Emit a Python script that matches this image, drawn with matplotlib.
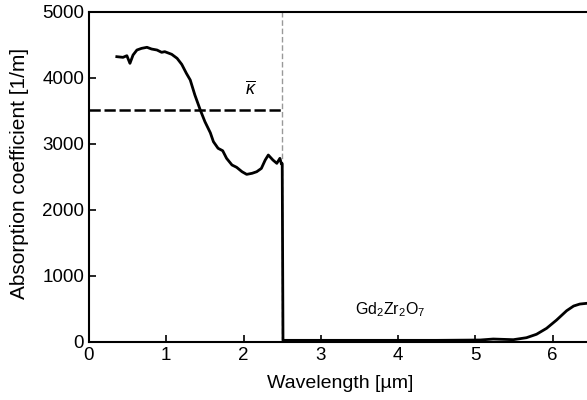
import numpy as np
import matplotlib
matplotlib.use('Agg')
import matplotlib.pyplot as plt

plt.rcParams['font.family'] = ['Liberation Sans', 'DejaVu Sans']
plt.rcParams['mathtext.fontset'] = 'custom'
plt.rcParams['mathtext.rm'] = 'Liberation Sans'
plt.rcParams['mathtext.it'] = 'Liberation Sans:italic'

# Absorption spectrum of Gd2Zr2O7
wavelength = [0.36, 0.44, 0.49, 0.53, 0.57, 0.62, 0.68, 0.75, 0.81, 0.88,
              0.94, 0.98, 1.07, 1.14, 1.20, 1.26, 1.31, 1.37, 1.44, 1.50,
              1.57, 1.61, 1.67, 1.73, 1.78, 1.85, 1.91, 1.98, 2.04, 2.11,
              2.17, 2.23, 2.28, 2.32, 2.38, 2.43, 2.47, 2.49, 2.50, 2.51,
              3.0, 3.5, 4.0, 4.5, 5.06, 5.23, 5.49, 5.66, 5.79, 5.92,
              6.05, 6.18, 6.27, 6.35, 6.44, 6.55]
absorption = [4323, 4313, 4338, 4222, 4348, 4424, 4449, 4465, 4439, 4424,
              4389, 4399, 4359, 4298, 4207, 4071, 3970, 3742, 3515, 3338,
              3170, 3035, 2935, 2898, 2783, 2682, 2647, 2580, 2540, 2556,
              2580, 2630, 2757, 2833, 2757, 2707, 2783, 2697, 2700, 25,
              25, 25, 25, 25, 30, 45, 35, 65, 117, 207,
              333, 474, 545, 575, 586, 600]

kappa_mean = 3510
cutoff = 2.5

fig = plt.figure(figsize=(5.87, 4.0), dpi=100)
ax = fig.add_axes([0.1516, 0.145, 0.9217, 0.825])

ax.axvline(cutoff, color='#999999', lw=1.0, ls=(0, (4, 2)), zorder=1)
ax.plot(wavelength, absorption, color='black', lw=2.0, zorder=3)
ax.plot([0, cutoff], [kappa_mean, kappa_mean], color='black', lw=1.8,
        dashes=(4.5, 1.5), zorder=2)

ax.text(2.1, 3690, r'$\overline{\kappa}$', fontsize=13, ha='center', va='bottom')
ax.text(3.9, 490, r'Gd$_2$Zr$_2$O$_7$', fontsize=11.5, ha='center', va='center')

ax.set_xlim(0, 7)
ax.set_ylim(0, 5000)
ax.set_xticks(range(0, 7))
ax.set_yticks(range(0, 5001, 1000))
ax.tick_params(direction='in', length=5, width=1.2, labelsize=13.5, top=False, right=False)
for s in ax.spines.values():
    s.set_linewidth(1.5)

ax.set_xlabel('Wavelength [µm]', fontsize=14)
ax.set_ylabel('Absorption coefficient [1/m]', fontsize=15)
ax.xaxis.set_label_coords(0.464, -0.10)
ax.yaxis.set_label_coords(-0.11, 0.512)

fig.savefig('out.png', dpi=100)
